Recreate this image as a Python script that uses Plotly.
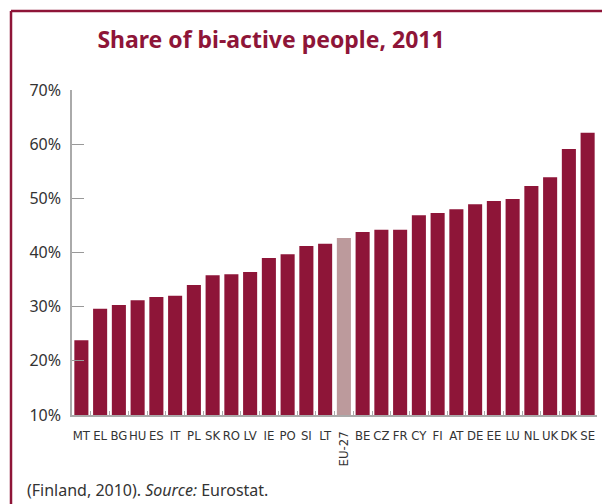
import plotly.graph_objects as go

categories = ["MT", "EL", "BG", "HU", "ES", "IT", "PL", "SK", "RO", "LV", "IE", "PO", "SI", "LT",
              "EU-27", "BE", "CZ", "FR", "CY", "FI", "AT", "DE", "EE", "LU", "NL", "UK", "DK", "SE"]
values = [23.8, 29.6, 30.3, 31.2, 31.8, 32.0, 34.0, 35.8, 36.0, 36.4, 39.0, 39.7, 41.2, 41.6,
          42.7, 43.8, 44.2, 44.2, 46.9, 47.3, 48.0, 48.9, 49.5, 49.9, 52.3, 53.9, 59.1, 62.1]
highlight = "EU-27"
y_ticks = [10, 20, 30, 40, 50, 60, 70]

DARK = "#8E1538"
LIGHT = "#BC9A9C"
colors = [LIGHT if c == highlight else DARK for c in categories]
ticktext = ["" if c == highlight else c for c in categories]
XFONT = "DejaVu Sans Condensed"

fig = go.Figure(go.Bar(x=categories, y=[v - 10 for v in values], base=10,
                       marker=dict(color=colors, line=dict(width=0)),
                       hoverinfo="skip"))

fig.update_layout(
    width=602, height=504,
    margin=dict(l=72, r=5, t=90, b=89),
    paper_bgcolor="white", plot_bgcolor="white",
    bargap=0.25,
    showlegend=False,
    title=dict(text="<b>Share of bi-active people, 2011</b>", x=271/602, xanchor="center",
               xref="container", y=1 - 40/504, yanchor="middle",
               font=dict(family="Noto Sans", size=23, color=DARK)),
    xaxis=dict(type="category", range=[-0.5, len(categories) - 0.5],
               tickmode="array", tickvals=categories, ticktext=ticktext,
               tickson="boundaries", ticks="inside", ticklen=4, tickcolor="#aaaaaa", tickwidth=1,
               showline=True, linecolor="#aaaaaa", linewidth=1.5, showgrid=False,
               tickangle=0, ticklabelstandoff=8,
               tickfont=dict(family=XFONT, size=13, color="#333333")),
    yaxis=dict(range=[10, 70], tickvals=y_ticks, ticktext=[f"{t}%" for t in y_ticks],
               ticks="inside", ticklen=12, tickcolor="#999999", tickwidth=1,
               showline=True, linecolor="#aaaaaa", linewidth=1.5, showgrid=False, zeroline=False,
               ticklabelstandoff=6,
               tickfont=dict(family="Noto Sans", size=16, color="#333333")),
)

fig.add_annotation(x=highlight, y=0, xref="x", yref="paper", yanchor="top", yshift=-14,
                   text=highlight, textangle=-90, showarrow=False,
                   font=dict(family=XFONT, size=13, color="#333333"))

fig.add_annotation(x=(25 - 72) / 525, y=(415 - 490) / 325, xref="paper", yref="paper",
                   xanchor="left", yanchor="middle", showarrow=False,
                   text="(Finland, 2010). <i>Source:</i> Eurostat.",
                   font=dict(family="Noto Sans", size=16, color="#333333"))

# frame
x_left = (11 - 72) / 525
y_top = (415 - 11) / 325
fig.add_shape(type="line", xref="paper", yref="paper", x0=x_left, x1=(610 - 72) / 525,
              y0=y_top, y1=y_top, line=dict(color=DARK, width=2.5))
fig.add_shape(type="line", xref="paper", yref="paper", x0=x_left, x1=x_left,
              y0=y_top, y1=(415 - 510) / 325, line=dict(color=DARK, width=2.5))

fig.write_html("out.html", config={"displayModeBar": False},
               post_script="document.body.style.margin='0';")
